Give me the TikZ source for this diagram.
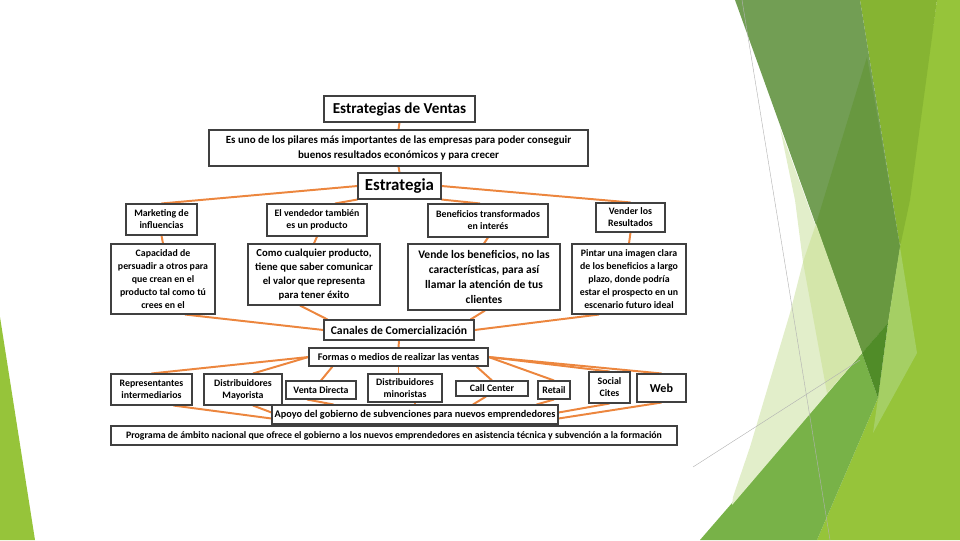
\documentclass[tikz,border=0pt]{standalone}
\usepackage{fontspec}
\setmainfont{Carlito}
\usetikzlibrary{calc}

\pgfdeclarelayer{fondo}
\pgfsetlayers{fondo,main}

\definecolor{naranja}{RGB}{236,134,62}
\definecolor{verdeOscuro}{RGB}{114,158,84}
\definecolor{verdeOscuro2}{RGB}{104,152,64}
\definecolor{verdeOliva}{RGB}{134,180,50}
\definecolor{verdeClaro}{RGB}{150,196,58}
\definecolor{verdeMedio}{RGB}{120,178,72}
\definecolor{verdeHondo}{RGB}{80,140,40}
\definecolor{verdeBanda}{RGB}{165,207,100}
\definecolor{verdePalido}{RGB}{226,238,202}
\definecolor{verdePalido2}{RGB}{212,230,170}

\tikzset{
  caja/.style={draw=black!75, line width=0.75pt, fill=white, align=center, inner sep=1pt,
    font=\bfseries\fontsize{7}{8.6}\selectfont},
  tam/.style 2 args={minimum width=#1*0.025cm, minimum height=#2*0.025cm},
  conector/.style={draw=naranja, line width=1.4pt},
}

\begin{document}
\begin{tikzpicture}[x=0.025cm, y=-0.025cm]
  \useasboundingbox (0,0) rectangle (960,540);

  % fondo verde de la diapositiva
  \begin{pgfonlayer}{fondo}
    \fill[verdeClaro] (900,247) -- (937,0) -- (960,0) -- (960,540) -- (817,540) -- (878,398) -- cycle;
    \fill[verdeOliva] (860,0) -- (937,0) -- (910,200) -- (900,247) -- cycle;
    \fill[verdeOscuro] (735,0) -- (860,0) -- (900,247) -- (888,323) -- (862,353) -- cycle;
    \fill[verdeOscuro2] (867,57) -- (900,247) -- (888,323) -- (862,353) -- (816,224) -- cycle;
    \fill[verdeBanda] (900,247) -- (917,353) -- (873,433) -- (878,398) -- (888,323) -- cycle;
    \fill[verdeMedio] (700,540) -- (862,353) -- (878,398) -- (817,540) -- cycle;
    \fill[verdeHondo] (862,353) -- (888,323) -- (878,398) -- cycle;
    \fill[verdePalido] (780,128) -- (795,200) -- (803,262) -- (790,313) -- (770,380) -- (750,447)
      -- (733,497) -- (732,505) -- (862,353) -- cycle;
    \fill[verdePalido2] (816,224) -- (862,353) -- (827,393) -- (803,262) -- cycle;
    \fill[verdeClaro] (0,317) -- (35,540) -- (0,540) -- cycle;
    \draw[gray!60, line width=0.3pt] (742,0) -- (830,540);
    \draw[gray!60, line width=0.3pt] (693,467) -- (860,360);
  \end{pgfonlayer}

  % nivel superior
  \node[caja, tam={151}{26}, font=\bfseries\fontsize{10.8}{13}\selectfont] (ventas) at (399.5,109) {Estrategias de Ventas};
  \node[caja, tam={379}{36}, font=\bfseries\fontsize{7.8}{10.5}\selectfont] (desc) at (398.5,148)
    {Es uno de los pilares más importantes de las empresas para poder conseguir\\buenos resultados económicos y para crecer};
  \node[caja, tam={83}{26}, font=\bfseries\fontsize{12}{14}\selectfont] (estr) at (399.5,186) {Estrategia};

  % estrategias
  \node[caja, tam={71}{31}] (mkt) at (161.5,219.5) {Marketing de\\influencias};
  \node[caja, tam={100}{32}] (vend) at (317,220) {El vendedor también\\es un producto};
  \node[caja, tam={120}{33}] (benef) at (488,220.5) {Beneficios transformados\\en interés};
  \node[caja, tam={69}{29}] (vres) at (630.5,217.5) {Vender los\\Resultados};

  \node[caja, tam={104}{70}, font=\bfseries\fontsize{7}{9.2}\selectfont] (capac) at (163,279)
    {Capacidad de\\persuadir a otros para\\que crean en el\\producto tal como tú\\crees en el};
  \node[caja, tam={132}{61}, font=\bfseries\fontsize{7.6}{10}\selectfont] (como) at (314,274.5)
    {Como cualquier producto,\\tiene que saber comunicar\\el valor que representa\\para tener éxito};
  \node[caja, tam={152}{66}, font=\bfseries\fontsize{8.2}{10.7}\selectfont] (vende) at (484,277)
    {Vende los beneficios, no las\\características, para así\\llamar la atención de tus\\clientes};
  \node[caja, tam={114}{70}, font=\bfseries\fontsize{7}{9.2}\selectfont] (pintar) at (629,279)
    {Pintar una imagen clara\\de los beneficios a largo\\plazo, donde podría\\estar el prospecto en un\\escenario futuro ideal};

  % canales
  \node[caja, tam={150}{20}, font=\bfseries\fontsize{8.3}{10}\selectfont] (canales) at (399,330) {Canales de Comercialización};
  \node[caja, tam={179}{18}, font=\bfseries\fontsize{7.2}{9}\selectfont] (formas) at (398.5,357) {Formas o medios de realizar las ventas};

  \node[caja, tam={81}{31}] (repr) at (151.5,389.5) {Representantes\\intermediarios};
  \node[caja, tam={78}{31}] (mayor) at (243,389.5) {Distribuidores\\Mayorista};
  \node[caja, tam={70}{18}] (vdir) at (321,390) {Venta Directa};
  \node[caja, tam={74}{28}] (minor) at (405,388) {Distribuidores\\minoristas};
  \node[caja, tam={72}{15}] (call) at (492,388.5) {Call Center};
  \node[caja, tam={32}{18}] (retail) at (554,390) {Retail};
  \node[caja, tam={41}{31}] (social) at (609.5,387.5) {Social\\Cites};
  \node[caja, tam={49}{28}, font=\bfseries\fontsize{8.6}{10}\selectfont] (web) at (661.5,388) {Web};

  \node[caja, tam={286}{19}, font=\bfseries\fontsize{7.3}{9}\selectfont] (apoyo) at (415,414.5)
    {Apoyo del gobierno de subvenciones para nuevos emprendedores};
  \node[caja, tam={566}{19}] (prog) at (394,435.5)
    {Programa de ámbito nacional que ofrece el gobierno a los nuevos emprendedores en asistencia técnica y subvención a la formación};

  % conectores
  \begin{pgfonlayer}{fondo}
    \foreach \a/\b in {ventas/desc, desc/estr, mkt/capac, vend/como, benef/vende, vres/pintar, canales/formas}
      \draw[conector] (\a.south) -- (\b.north);
    \draw[conector] (estr.west) -- (mkt.north);
    \draw[conector] (estr.south west) -- ($(vend.north)+(18,0)$);
    \draw[conector] (estr.south east) -- ($(benef.north)+(-8,0)$);
    \draw[conector] (estr.east) -- (vres.north);

    \draw[conector] ($(capac.south)+(22,0)$) -- (canales.west);
    \draw[conector] ($(como.south)+(-14,0)$) -- ($(canales.north west)+(4,0)$);
    \draw[conector] ($(vende.south)+(1,0)$) -- ($(canales.north east)+(-4,0)$);
    \draw[conector] ($(pintar.south)+(-30,0)$) -- (canales.east);

    \draw[conector] (formas.west) -- (repr.north);
    \draw[conector] (formas.west) -- ($(mayor.north)+(10,0)$);
    \draw[conector] ($(formas.south west)+(24,0)$) -- (vdir.north);
    \draw[conector] (formas.south) -- (formas.south |- minor.north);
    \draw[conector] ($(formas.south east)+(-12,0)$) -- (call.north);
    \foreach \b in {retail, social, web}
      \draw[conector] (formas.east) -- (\b.north);

    \draw[conector] ($(repr.south)+(22,0)$) -- ($(apoyo.west)+(0,4)$);
    \draw[conector] ($(mayor.south)+(10,0)$) -- ($(apoyo.west)+(0,-2)$);
    \draw[conector] ($(vdir.south)+(-14,0)$) -- ($(apoyo.north west)+(62,0)$);
    \draw[conector] (apoyo.north |- minor.south) -- (apoyo.north);
    \draw[conector] (apoyo.south) -- (apoyo.south |- prog.north);
    \draw[conector] ($(call.south)+(-6,0)$) -- ($(apoyo.north)+(58,0)$);
    \draw[conector] (retail.south) -- ($(apoyo.north east)+(-22,0)$);
    \draw[conector] (social.south) -- ($(apoyo.east)+(0,-2)$);
    \draw[conector] (web.south) -- ($(apoyo.east)+(0,4)$);
  \end{pgfonlayer}
\end{tikzpicture}
\end{document}
